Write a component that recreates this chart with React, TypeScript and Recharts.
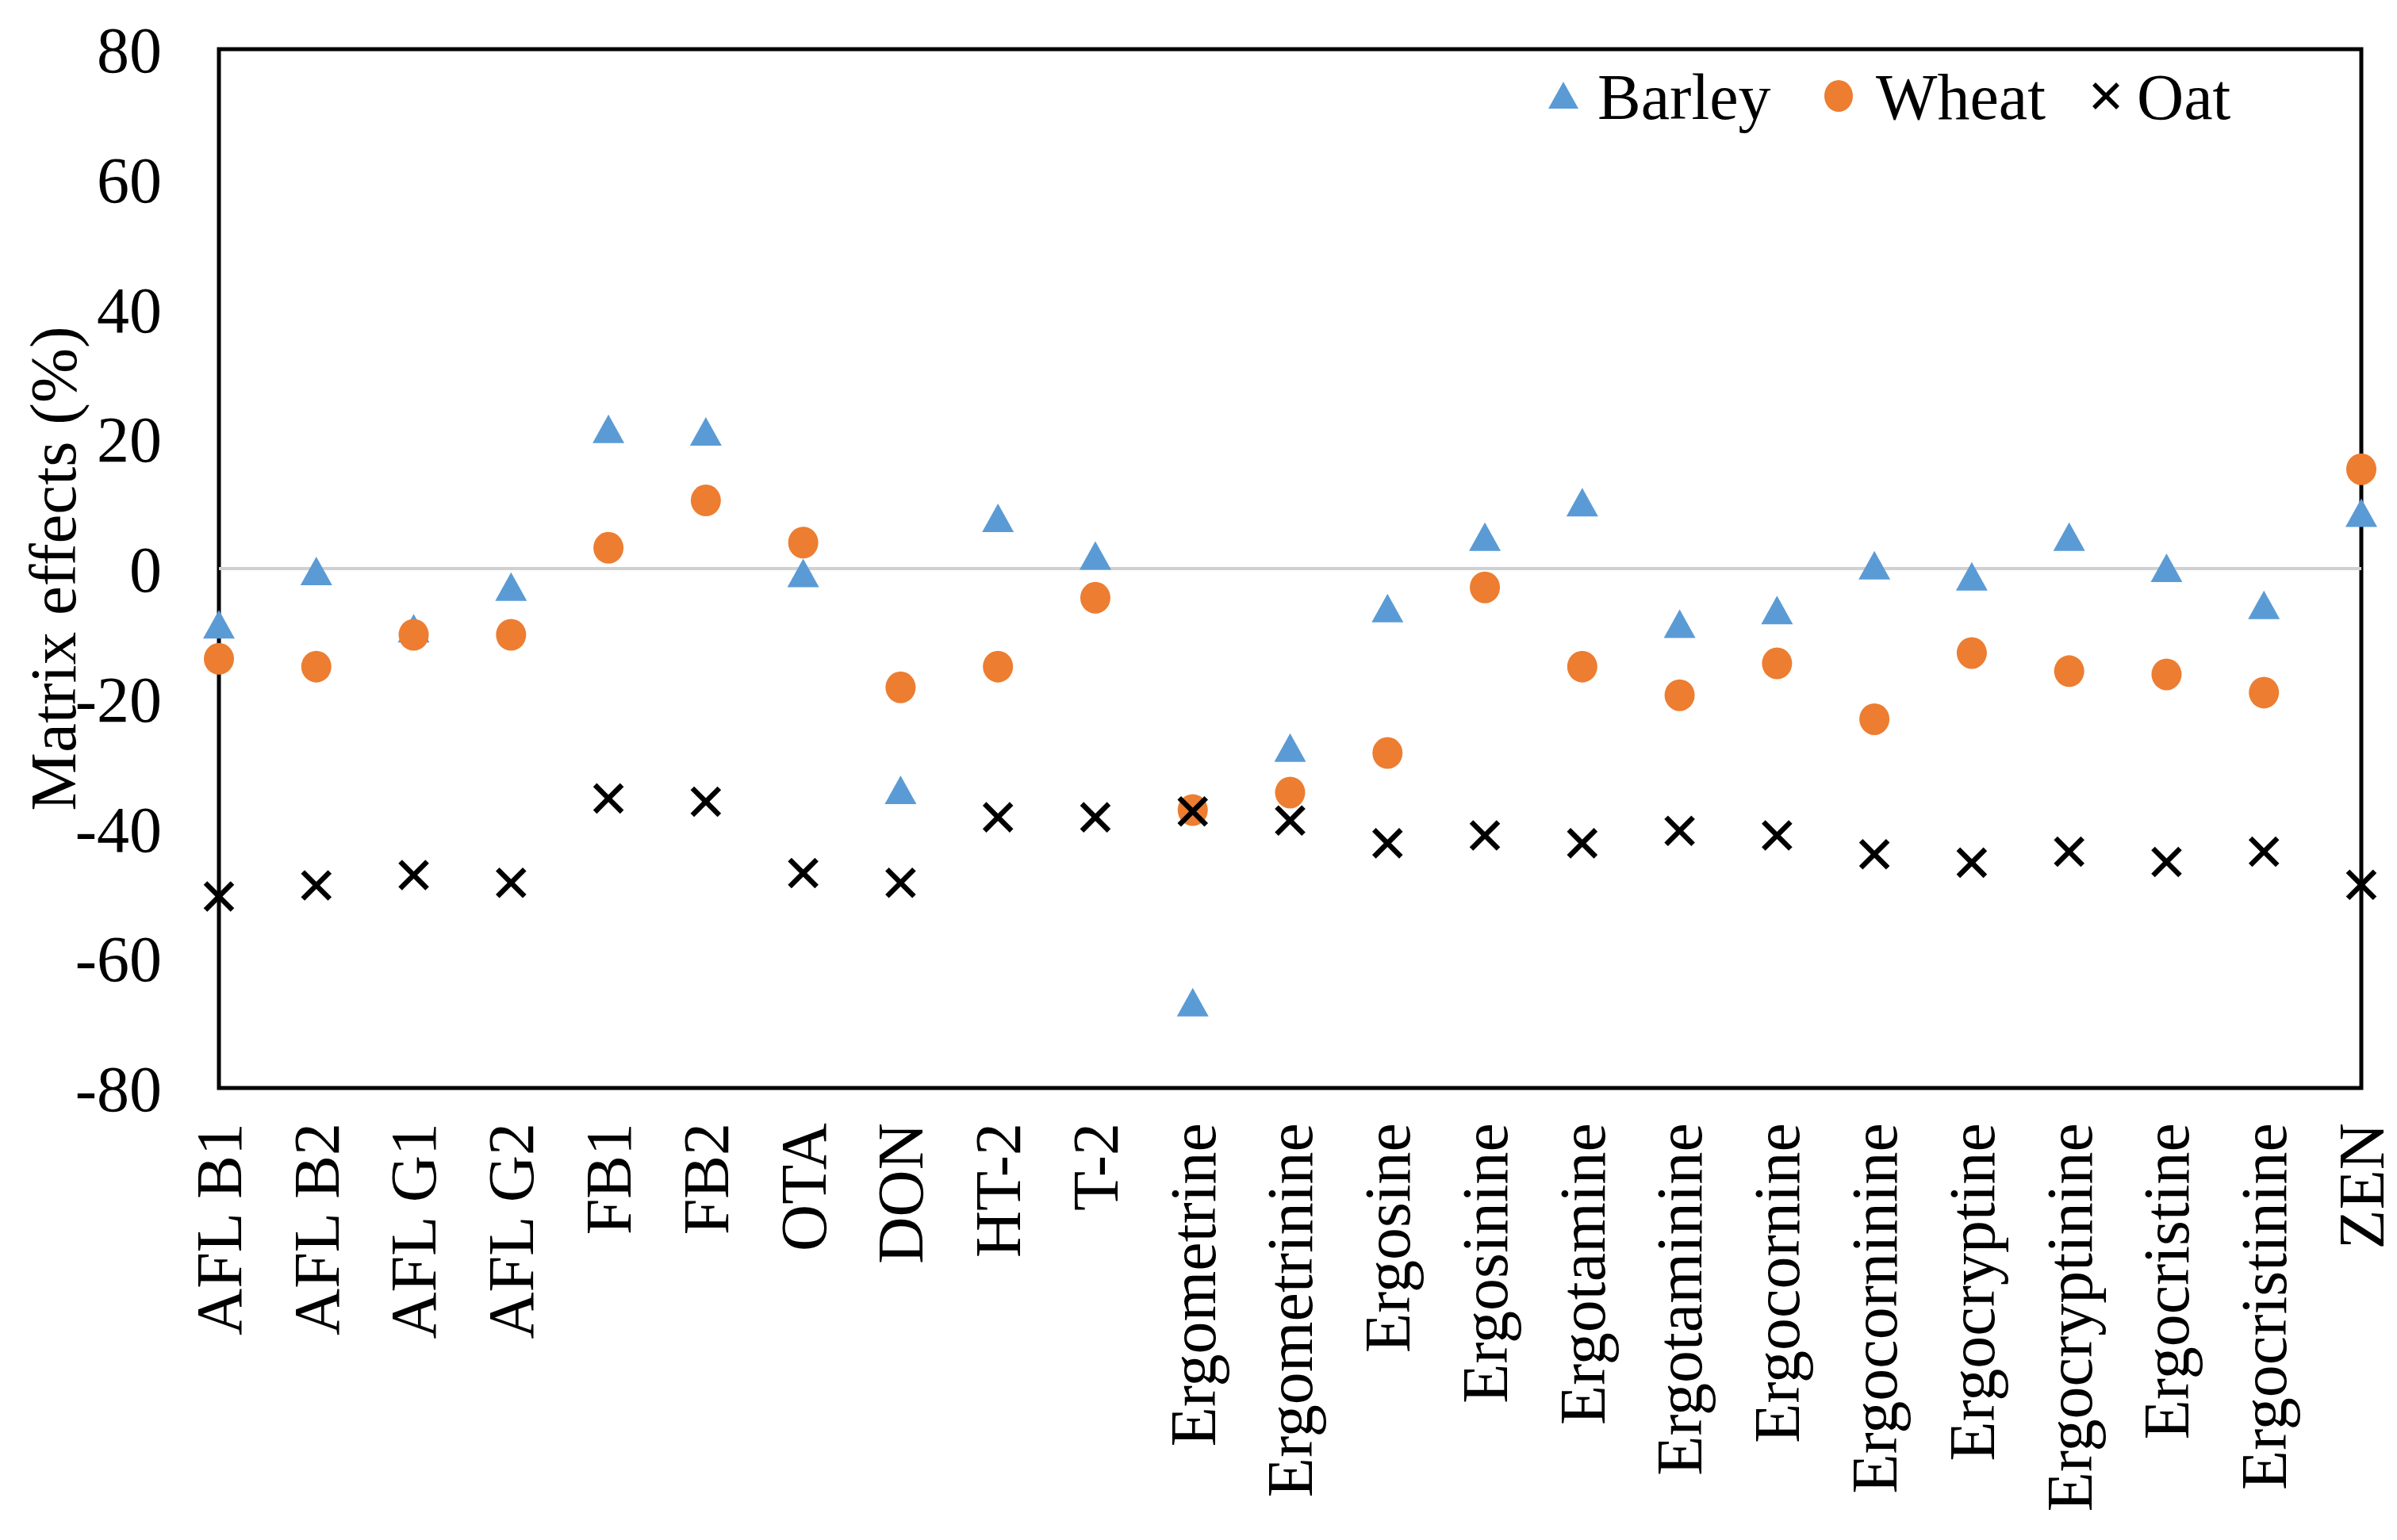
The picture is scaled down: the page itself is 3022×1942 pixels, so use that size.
import { Label, Line, LineChart, ReferenceArea, ReferenceLine, XAxis, YAxis } from "recharts";

const categories = [
  "AFL B1", "AFL B2", "AFL G1", "AFL G2", "FB1", "FB2", "OTA", "DON", "HT-2", "T-2",
  "Ergometrine", "Ergometrinine", "Ergosine", "Ergosinine", "Ergotamine", "Ergotaminine",
  "Ergocornine", "Ergocorninine", "Ergocryptine", "Ergocryptinine", "Ergocristine",
  "Ergocristinine", "ZEN",
];

const barley = [
  -8.7, -0.5, -9.3, -2.9, 21.4, 21, -0.8, -34.2, 7.7, 1.9,
  -66.9, -27.7, -6.2, 4.8, 10.1, -8.6,
  -6.5, 0.4, -1.3, 4.8, 0,
  -5.7, 8.5,
];

const wheat = [
  -13.9, -15.1, -10.2, -10.2, 3.2, 10.5, 4, -18.3, -15.1, -4.5,
  -37.2, -34.5, -28.4, -2.9, -15.1, -19.5,
  -14.6, -23.2, -13, -15.8, -16.3,
  -19.1, 15.3,
];

const oat = [
  -50.5, -48.8, -47.2, -48.4, -35.4, -35.9, -46.9, -48.4, -38.3, -38.3,
  -37.4, -38.8, -42.3, -41.1, -42.3, -40.4,
  -41.1, -44, -45.3, -43.6, -45.2,
  -43.6, -48.7,
];

const yTicks = [-80, -60, -40, -20, 0, 20, 40, 60, 80];

const data = categories.map((name, i) => ({
  name,
  barley: barley[i],
  wheat: wheat[i],
  oat: oat[i],
}));

const FONT = "'Liberation Serif', 'Times New Roman', serif";
const BLUE = "#5b9bd5";
const ORANGE = "#ed7d31";

const Triangle = (props: any) => {
  const { cx, cy } = props;
  if (cx == null || cy == null) return null;
  return (
    <polygon
      key={props.key ?? `t-${props.index}`}
      points={`${cx},${cy - 19} ${cx - 20},${cy + 17} ${cx + 20},${cy + 17}`}
      fill={BLUE}
    />
  );
};

const Dot = (props: any) => {
  const { cx, cy } = props;
  if (cx == null || cy == null) return null;
  return <ellipse key={props.key ?? `c-${props.index}`} cx={cx} cy={cy} rx={19} ry={20} fill={ORANGE} />;
};

const Cross = (props: any) => {
  const { cx, cy } = props;
  if (cx == null || cy == null) return null;
  const s = 17;
  return (
    <g key={props.key ?? `x-${props.index}`} stroke="#000" strokeWidth={6.5}>
      <line x1={cx - s} y1={cy - s} x2={cx + s} y2={cy + s} />
      <line x1={cx - s} y1={cy + s} x2={cx + s} y2={cy - s} />
    </g>
  );
};

const CategoryTick = (props: any) => {
  const { x, y, payload } = props;
  return (
    <text
      x={x}
      y={y}
      dy="0.34em"
      transform={`rotate(-90 ${x} ${y})`}
      textAnchor="end"
      fontFamily={FONT}
      fontSize={82}
      fill="#000"
    >
      {payload.value}
    </text>
  );
};

const LegendBox = () => (
  <svg width={900} height={100} style={{ position: "absolute", left: 1940, top: 63, overflow: "visible" }}>
    <polygon points="23,32 4,66 42,66" fill={BLUE} />
    <text x={66} y={79} fontFamily={FONT} fontSize={82}>Barley</text>
    <ellipse cx={370} cy={50} rx={18} ry={20} fill={ORANGE} />
    <text x={417} y={79} fontFamily={FONT} fontSize={82}>Wheat</text>
    <g stroke="#000" strokeWidth={5.5}>
      <line x1={692} y1={35} x2={722} y2={65} />
      <line x1={692} y1={65} x2={722} y2={35} />
    </g>
    <text x={746} y={79} fontFamily={FONT} fontSize={82}>Oat</text>
  </svg>
);

export default function App() {
  return (
    <div style={{ position: "relative", width: 3014, height: 1926 }}>
      <LineChart
        width={3014}
        height={1926}
        data={data}
        margin={{ top: 54, right: 45, bottom: 0, left: 0 }}
        style={{ fontFamily: FONT }}
      >
        <ReferenceLine y={0} stroke="#d0d0d0" strokeWidth={4} />
        <XAxis
          dataKey="name"
          type="category"
          scale="point"
          padding={{ left: 0, right: 0 }}
          interval={0}
          height={562}
          axisLine={false}
          tickLine={false}
          tickSize={0}
          tickMargin={44}
          tick={<CategoryTick />}
        />
        <YAxis
          domain={[-80, 80]}
          ticks={yTicks}
          width={268}
          axisLine={false}
          tickLine={false}
          tickSize={0}
          tickMargin={72}
          tick={{ fontSize: 82, fontFamily: FONT, fill: "#000" }}
        >
          <Label
            content={(p: any) => {
              const vb = p.viewBox;
              const x = vb.x + 59;
              const y = vb.y + vb.height / 2;
              return (
                <text
                  x={x}
                  y={y}
                  dy="0.34em"
                  transform={`rotate(-90 ${x} ${y})`}
                  textAnchor="middle"
                  fontFamily={FONT}
                  fontSize={83}
                  fill="#000"
                >
                  Matrix effects (%)
                </text>
              );
            }}
          />
        </YAxis>
        <ReferenceArea
          x1={categories[0]}
          x2={categories[categories.length - 1]}
          y1={-80}
          y2={80}
          fill="none"
          fillOpacity={0}
          stroke="#000"
          strokeWidth={5}
        />
        <Line dataKey="barley" name="Barley" stroke="none" dot={Triangle} activeDot={false} isAnimationActive={false} />
        <Line dataKey="wheat" name="Wheat" stroke="none" dot={Dot} activeDot={false} isAnimationActive={false} />
        <Line dataKey="oat" name="Oat" stroke="none" dot={Cross} activeDot={false} isAnimationActive={false} />
      </LineChart>
      <LegendBox />
    </div>
  );
}
